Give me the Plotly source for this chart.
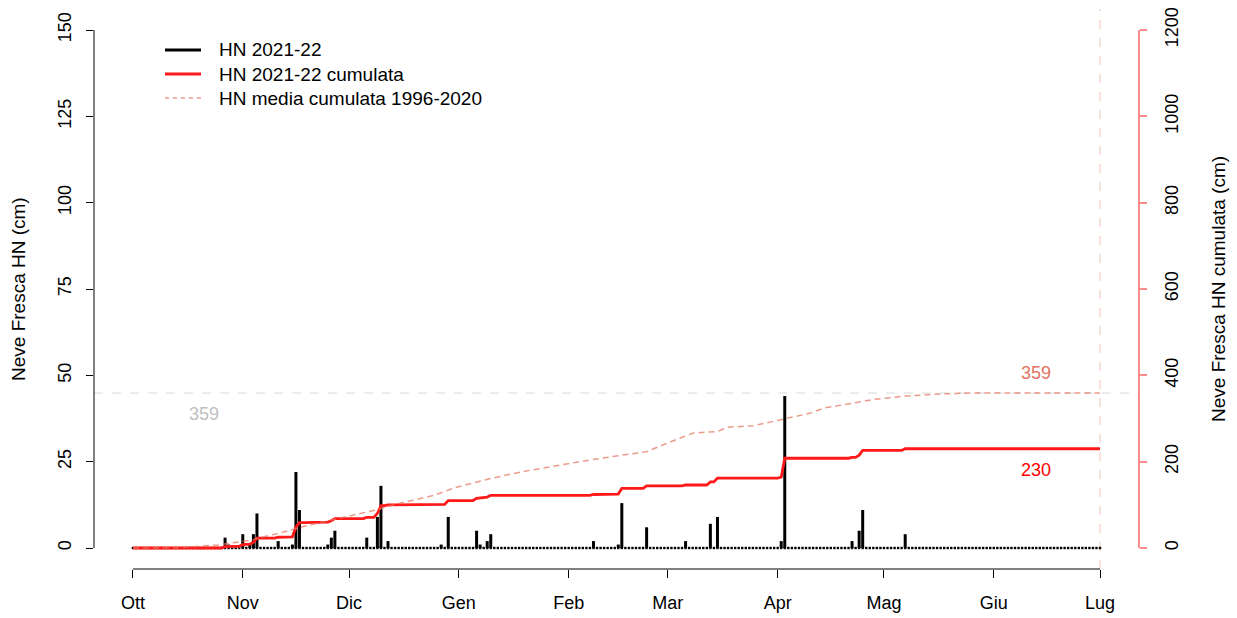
import pandas as pd
import plotly.graph_objects as go

season_start = "2021-10-01"
season_end = "2022-07-01"

# giorni con neve fresca HN 2021-22 (cm)
hn_dates = ["2021-10-27", "2021-10-28", "2021-11-01", "2021-11-03", "2021-11-04",
            "2021-11-05", "2021-11-11", "2021-11-15", "2021-11-16", "2021-11-17",
            "2021-11-25", "2021-11-26", "2021-11-27", "2021-12-06", "2021-12-09",
            "2021-12-10", "2021-12-12", "2021-12-27", "2021-12-29", "2022-01-06",
            "2022-01-07", "2022-01-09", "2022-01-10", "2022-02-08", "2022-02-15",
            "2022-02-16", "2022-02-23", "2022-03-06", "2022-03-13", "2022-03-15",
            "2022-04-02", "2022-04-03", "2022-04-22", "2022-04-24", "2022-04-25",
            "2022-05-07"]
hn_values = [3, 1, 4, 1, 4,
             10, 2, 1, 22, 11,
             1, 3, 5, 3, 9,
             18, 2, 1, 9, 5,
             1, 2, 4, 2, 1,
             13, 6, 2, 7, 9,
             2, 44, 2, 5, 11,
             4]

# HN media cumulata 1996-2020 (cm)
avg_dates = ["2021-10-01", "2021-10-15", "2021-10-25", "2021-10-30", "2021-11-03",
             "2021-11-09", "2021-11-14", "2021-11-17", "2021-11-26", "2021-12-09",
             "2021-12-15", "2021-12-25", "2021-12-31", "2022-01-10", "2022-01-19",
             "2022-01-29", "2022-02-07", "2022-02-16", "2022-02-23", "2022-02-27",
             "2022-03-08", "2022-03-15", "2022-03-18", "2022-03-25", "2022-04-03",
             "2022-04-10", "2022-04-14", "2022-04-22", "2022-04-28", "2022-05-07",
             "2022-05-17", "2022-05-26", "2022-07-01"]
avg_values = [0, 1.5, 7, 14, 18,
              30, 40, 48, 65, 89,
              103, 122, 140, 161, 177,
              192, 204, 215, 223, 237,
              266, 270, 280, 283, 300,
              312, 324, 335, 344, 352,
              357, 359, 359]

month_ticks = ["2021-10-01", "2021-11-01", "2021-12-01", "2022-01-01", "2022-02-01",
               "2022-03-01", "2022-04-01", "2022-05-01", "2022-06-01", "2022-07-01"]
month_labels = ["Ott", "Nov", "Dic", "Gen", "Feb", "Mar", "Apr", "Mag", "Giu", "Lug"]

total_avg = 359

days = pd.date_range(season_start, season_end, freq="D")
hn = pd.Series(0.0, index=days)
hn.loc[pd.to_datetime(hn_dates)] = hn_values
cum = hn.cumsum()

FONT = "Liberation Sans, Arial, sans-serif"
SALMON = "rgba(228,120,100,0.75)"
PINK_AX = "rgba(255,0,0,0.45)"
RED = "rgb(255,25,25)"

# plot area in pixels (R-like layout)
L, R, T, B = 94, 1139, 9, 569


def px_x(px):
    return (px - L) / (R - L)


def px_y(py):
    return (B - py) / (B - T)


# vertical bars as segments
bx, by = [], []
for d, v in hn[hn > 0].items():
    bx += [d, d, None]
    by += [0, v, None]

fig = go.Figure()

fig.add_trace(go.Scatter(
    x=days, y=[0] * len(days), mode="markers",
    marker=dict(symbol="square", size=2.4, color="black", line=dict(width=0)),
    hoverinfo="skip"))

fig.add_trace(go.Scatter(
    x=bx, y=by, mode="lines", line=dict(color="black", width=3),
    name="HN 2021-22"))

fig.add_trace(go.Scatter(
    x=days, y=cum.values, mode="lines", yaxis="y2",
    line=dict(color=RED, width=2.8),
    name="HN 2021-22 cumulata"))

fig.add_trace(go.Scatter(
    x=pd.to_datetime(avg_dates), y=avg_values, mode="lines", yaxis="y2",
    line=dict(color=SALMON, width=1.5, dash="6px,4px"),
    name="HN media cumulata 1996-2020"))

x0 = pd.Timestamp(season_start) - pd.Timedelta(days=11)
x1 = pd.Timestamp(season_end) + pd.Timedelta(days=11)

fig.update_layout(
    width=1237, height=618,
    margin=dict(l=L, r=1237 - R, t=T, b=618 - B, autoexpand=False),
    paper_bgcolor="white", plot_bgcolor="white",
    font=dict(family=FONT, size=18, color="black"),
    showlegend=False,
    xaxis=dict(type="date", range=[x0, x1], tickvals=month_ticks, ticktext=month_labels,
               ticks="outside", ticklen=8, tickcolor="black", tickwidth=1,
               showgrid=False, zeroline=False, showline=False, automargin=False,
               tickfont=dict(size=18), ticklabelstandoff=9),
    yaxis=dict(range=[-6.08, 156.08], tickvals=[0, 25, 50, 75, 100, 125, 150],
               ticks="outside", ticklen=7, tickcolor="black", tickangle=-90,
               showgrid=False, zeroline=False, showline=False, automargin=False,
               tickfont=dict(size=18), ticklabelstandoff=8),
    yaxis2=dict(range=[-48.6, 1248.6], overlaying="y", side="right", anchor="x",
                tickvals=[0, 200, 400, 600, 800, 1000, 1200],
                ticks="outside", ticklen=7, tickcolor=PINK_AX, tickwidth=2,
                tickangle=-90, showgrid=False, zeroline=False, showline=False,
                automargin=False,
                tickfont=dict(size=18, color="black"), ticklabelstandoff=9),
)

# axis lines drawn only between first and last tick
fig.add_shape(type="line", xref="paper", yref="y", x0=0, x1=0, y0=0, y1=150,
              line=dict(color="black", width=1))
fig.add_shape(type="line", xref="x", yref="paper", x0=month_ticks[0], x1=month_ticks[-1],
              y0=0, y1=0, line=dict(color="black", width=1))
fig.add_shape(type="line", xref="paper", yref="y2", x0=1, x1=1, y0=0, y1=1200,
              line=dict(color=PINK_AX, width=2))

# reference lines
fig.add_shape(type="line", xref="paper", yref="y2", x0=0, x1=1, y0=total_avg, y1=total_avg,
              line=dict(color="#d9d9d9", width=1, dash="dash"), layer="below")
fig.add_shape(type="line", xref="x", yref="paper", x0=season_end, x1=season_end, y0=0, y1=1,
              line=dict(color="rgba(235,160,140,0.6)", width=1, dash="dash"), layer="below")

# legend (R style, top left)
legend_items = [("HN 2021-22", "black", 3, "solid"),
                ("HN 2021-22 cumulata", RED, 3, "solid"),
                ("HN media cumulata 1996-2020", SALMON, 1.5, "4px,4px")]
for i, (label, color, width, dash) in enumerate(legend_items):
    yy = px_y(50 + 24 * i)
    fig.add_shape(type="line", xref="paper", yref="paper", x0=px_x(165), x1=px_x(201),
                  y0=yy, y1=yy, line=dict(color=color, width=width, dash=dash))
    fig.add_annotation(xref="paper", yref="paper", x=px_x(217), y=yy, xanchor="left",
                       yanchor="middle", text=label, showarrow=False,
                       font=dict(size=19, color="black"))

fig.add_annotation(x="2021-10-21", y=total_avg, yref="y2", yshift=-21, text=str(total_avg),
                   showarrow=False, font=dict(size=18, color="#c0c0c0"))
fig.add_annotation(x="2022-06-13", y=total_avg, yref="y2", yshift=20, text=str(total_avg),
                   showarrow=False, font=dict(size=18, color="rgb(225,115,95)"))
fig.add_annotation(x="2022-06-13", y=cum.iloc[-1], yref="y2", yshift=-21,
                   text=str(int(cum.iloc[-1])),
                   showarrow=False, font=dict(size=18, color="red"))

fig.add_annotation(xref="paper", yref="paper", x=px_x(18), y=0.5, xanchor="center",
                   text="Neve Fresca HN (cm)", textangle=-90, showarrow=False,
                   font=dict(size=19))
fig.add_annotation(xref="paper", yref="paper", x=px_x(1218), y=0.5, xanchor="center",
                   text="Neve Fresca HN cumulata (cm)", textangle=-90, showarrow=False,
                   font=dict(size=19))

fig.write_html("out.html", config={"displayModeBar": False},
               post_script="document.body.style.margin = '0';")
